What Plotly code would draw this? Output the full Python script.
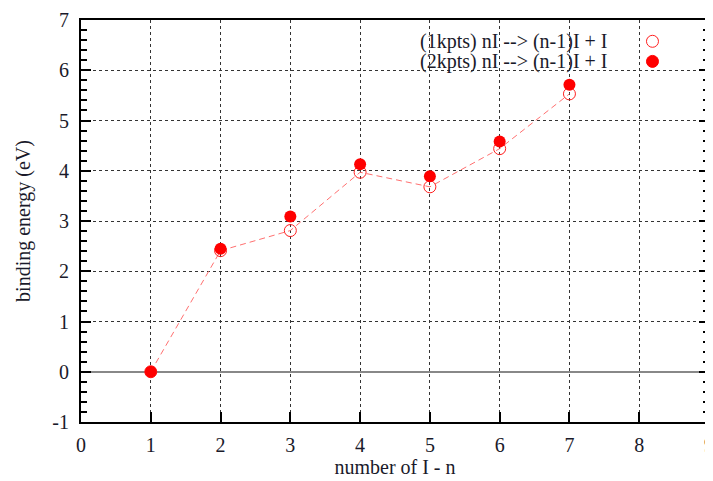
import plotly.graph_objects as go

n_values = [1, 2, 3, 4, 5, 6, 7]
be_1kpts = [0.0, 2.41, 2.81, 3.97, 3.68, 4.44, 5.53]
be_2kpts = [0.0, 2.45, 3.09, 4.13, 3.89, 4.58, 5.71]
legend_labels = ["(1kpts) nI --> (n-1)I + I", "(2kpts) nI --> (n-1)I + I"]
x_ticks = list(range(0, 10))
y_ticks = list(range(-1, 8))
x_ticklabels = [str(v) for v in x_ticks]
y_ticklabels = [str(v) for v in y_ticks]  # plain hyphen "-1"

FONT = "Liberation Serif, Times New Roman, serif"
TXT = "#1a1a2a"
FS = 20

fig = go.Figure()
fig.add_trace(go.Scatter(x=n_values, y=be_1kpts, mode="lines",
                         line=dict(color="#ff7070", width=1, dash="6px,4px"),
                         showlegend=False, hoverinfo="skip"))
fig.add_trace(go.Scatter(x=n_values, y=be_1kpts, mode="markers", name=legend_labels[0],
                         marker=dict(symbol="circle-open", size=12, color="#ff2020",
                                     line=dict(width=1, color="#ff2020")),
                         showlegend=False))
fig.add_trace(go.Scatter(x=n_values, y=be_2kpts, mode="markers", name=legend_labels[1],
                         marker=dict(symbol="circle", size=12, color="#ff0000"),
                         showlegend=False))

# legend drawn as text + marker shapes (symbol to the right of the text)
leg_y = [0.947, 0.897]
for i, lab in enumerate(legend_labels):
    fig.add_annotation(x=0.843, y=leg_y[i], xref="paper", yref="paper", text=lab,
                       showarrow=False, xanchor="right", yanchor="middle",
                       font=dict(family=FONT, size=FS, color=TXT))
fig.add_shape(type="circle", xref="paper", yref="paper", xsizemode="pixel", ysizemode="pixel",
              xanchor=0.91, yanchor=leg_y[0], x0=-6, x1=6, y0=-6, y1=6,
              line=dict(color="#ff2020", width=1), fillcolor="rgba(0,0,0,0)")
fig.add_shape(type="circle", xref="paper", yref="paper", xsizemode="pixel", ysizemode="pixel",
              xanchor=0.91, yanchor=leg_y[1], x0=-6, x1=6, y0=-6, y1=6,
              line=dict(color="#ff0000", width=1), fillcolor="#ff0000")

axis_common = dict(
    showline=True, linecolor="black", linewidth=2, automargin=False,
    ticks="inside", ticklen=10, tickwidth=2, tickcolor="black",
    showgrid=True, gridcolor="#333333", gridwidth=1, griddash="3px,3px",
    tickfont=dict(family=FONT, size=FS, color=TXT), ticklabeloverflow="allow",
)

fig.update_xaxes(range=[0, 9], tickvals=x_ticks, ticktext=x_ticklabels, mirror=True, zeroline=False,
                 ticklabelstandoff=4,
                 title=dict(text="number of I - n", font=dict(family=FONT, size=FS, color=TXT), standoff=3),
                 **axis_common)
fig.update_yaxes(range=[-1, 7], tickvals=y_ticks, ticktext=y_ticklabels, mirror="ticks", ticklabelstandoff=6,
                 zeroline=True, zerolinecolor="#888888", zerolinewidth=1.5,
                 minor=dict(dtick=0.2, ticks="inside", ticklen=6, tickwidth=2, tickcolor="black", showgrid=False),
                 title=dict(text="binding energy (eV)", font=dict(family=FONT, size=FS, color=TXT), standoff=16),
                 **axis_common)

# page body has an 8px margin, so the figure is sized/margined to compensate
fig.update_layout(width=705, height=473, margin=dict(l=73, r=4, t=12, b=59),
                  plot_bgcolor="white", paper_bgcolor="white",
                  font=dict(family=FONT, color=TXT))
fig.write_html("out.html")
